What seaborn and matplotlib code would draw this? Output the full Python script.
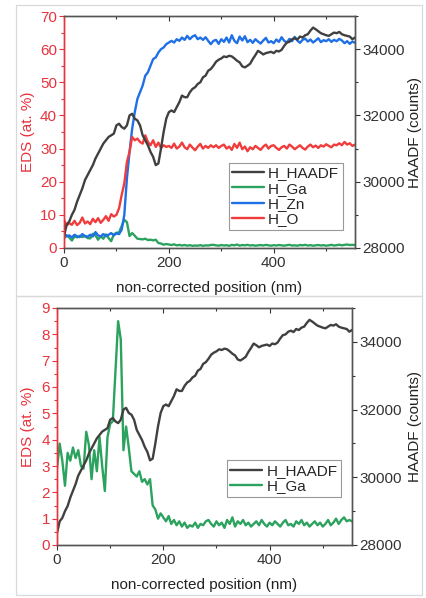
import numpy as np
import pandas as pd
import matplotlib
matplotlib.use("Agg")
import matplotlib.pyplot as plt
from matplotlib.patches import Rectangle
from matplotlib.ticker import MultipleLocator
import seaborn as sns

sns.set_theme(style="white")
plt.rcParams['font.family'] = ['Liberation Sans', 'DejaVu Sans']

# ---------------- data ----------------
position_nm = list(range(0, 560, 5))

haadf_counts = [
    28350, 28700, 28800, 29000, 29150, 29400, 29600, 29800, 30050, 30200,
    30350, 30500, 30700, 30850, 31000, 31150, 31250, 31350, 31400, 31450,
    31700, 31750, 31650, 31600, 31700, 32000, 32050, 31900, 31850, 31700,
    31400, 31250, 31100, 30900, 30750, 30500, 30550, 31000, 31500, 31900,
    32100, 32150, 32100, 32250, 32400, 32600, 32550, 32550, 32700, 32800,
    32850, 32950, 33000, 33150, 33200, 33350, 33400, 33500, 33620, 33680,
    33720, 33780, 33760, 33800, 33780, 33720, 33650, 33600, 33480, 33450,
    33500, 33560, 33700, 33820, 33950, 33900, 33840, 33880, 33900, 33920,
    33880, 33950, 33930, 33980, 34100, 34200, 34220, 34300, 34330, 34290,
    34380, 34350, 34420, 34450, 34560, 34650, 34600, 34540, 34480, 34450,
    34420, 34400, 34450, 34500, 34480, 34520, 34450, 34420, 34400, 34380,
    34300, 34350,
]

zn_at = [
    4.5, 3.5, 3.8, 3.2, 4.0, 3.5, 3.3, 4.2, 3.6, 3.4,
    4.0, 3.5, 4.8, 3.8, 3.5, 4.2, 3.6, 4.0, 4.5, 3.8,
    4.4, 4.2, 5.5, 10.0, 21.0, 29.0, 36.0, 41.0, 45.0, 47.0,
    49.0, 52.0, 53.0, 55.0, 57.0, 57.5, 59.0, 60.0, 60.5, 61.5,
    62.0, 62.5, 62.0, 63.0, 62.5, 63.5, 62.8, 64.0, 63.0, 63.8,
    64.2, 63.0, 63.5, 62.8, 63.6, 62.5, 61.5, 62.5, 62.8, 61.6,
    63.0, 62.2, 63.5, 62.0, 64.2, 62.5, 61.8, 63.8, 62.6, 63.9,
    62.1, 62.8, 61.9, 63.0, 62.3, 61.7, 62.6, 63.4, 62.0, 62.4,
    61.8, 62.9, 62.2, 63.6, 62.5, 62.0, 63.1, 62.4, 63.7, 62.6,
    61.9, 62.8, 63.2, 62.3, 62.9, 62.0, 62.6, 63.3, 62.1, 62.7,
    62.4, 63.0, 62.2, 62.8, 62.4, 63.1, 62.6, 61.8, 62.4, 61.6,
    62.3, 61.9,
]

o_at = [
    8.5, 6.8, 7.5, 7.0, 8.2, 6.9, 7.6, 9.2, 7.4, 8.0,
    7.2, 8.8, 7.8, 9.0, 7.6, 8.5, 9.6, 8.2, 10.2, 9.5,
    10.0, 12.0, 16.0, 19.5, 26.0, 29.0, 33.5, 32.5, 33.0, 32.0,
    31.5, 34.0, 32.0, 31.0, 32.5, 30.5, 31.8, 30.2, 31.0, 30.5,
    30.8, 30.2, 31.5, 30.0, 30.6, 31.8, 30.4, 29.8, 31.2, 30.3,
    29.5, 30.6, 31.4, 30.0, 30.8, 30.2, 31.0, 30.4, 31.0, 30.2,
    30.8, 31.2, 30.0, 30.6, 29.6, 31.4, 30.2, 31.8, 29.8, 30.6,
    29.2, 30.4, 29.8, 30.8, 30.2, 29.6, 30.6, 31.2, 30.0, 30.8,
    31.0, 30.2, 29.6, 30.4, 30.8, 30.0, 31.2, 30.6, 29.8, 30.4,
    31.0, 30.2, 29.7, 30.6, 31.2, 30.4, 30.9, 30.2, 31.0, 30.6,
    31.3, 30.8, 30.4, 31.2, 31.0, 31.6, 31.0, 32.0, 31.2, 31.6,
    30.8, 31.2,
]

ga_at = [
    2.9, 3.85, 3.2, 2.25, 3.5, 3.2, 3.7, 3.3, 3.6, 3.0,
    2.9, 4.3, 3.8, 2.5, 3.6, 2.8, 4.1, 3.0, 2.05, 4.1,
    4.6, 4.7, 6.6, 8.5, 7.8, 3.6, 4.5, 3.7, 2.8, 2.7,
    2.6, 2.8, 2.4, 2.5, 2.3, 2.5, 1.5, 1.35, 1.0, 1.2,
    1.05, 0.9, 1.1, 0.8, 0.95, 0.75, 0.9, 0.7, 0.85, 0.65,
    0.75, 0.7, 0.85, 0.65, 0.8, 0.75, 0.9, 0.95, 0.8, 0.7,
    0.9, 0.75, 0.85, 0.65, 0.95, 0.8, 1.05, 0.7, 0.9, 0.8,
    0.95, 0.75, 0.85, 0.7, 0.8, 0.9, 0.75, 0.95, 0.8, 0.7,
    0.85, 0.75, 0.9, 0.8, 0.7, 0.85, 0.95, 0.75, 0.8, 0.7,
    0.9, 0.8, 0.95, 0.75, 0.85, 0.7, 0.8, 0.9, 0.75, 0.85,
    0.7, 0.8, 0.95, 0.75, 0.85, 1.0, 0.8, 0.95, 1.05, 0.9,
    0.95, 0.9,
]

df = pd.DataFrame({
    "pos": position_nm,
    "H_HAADF": haadf_counts,
    "H_Ga": ga_at,
    "H_Zn": zn_at,
    "H_O": o_at,
})

# ---------------- style ----------------
C_HAADF = "#404040"
C_GA = "#2ca25f"
C_ZN = "#1f6fe6"
C_O = "#f03c3c"
C_AX = "#e8323c"
LW = 1.7
FS = 11

W, H = 426, 598
fig = plt.figure(figsize=(W / 100, H / 100), dpi=100)

# panel frames
for (y0, y1) in [(5, 296), (296, 595)]:
    fig.patches.append(Rectangle((16 / W, 1 - y1 / H), (422 - 16) / W, (y1 - y0) / H,
                                 transform=fig.transFigure, fill=False,
                                 edgecolor="#d9d9d9", linewidth=0.9))


def make_axes(px_left, px_right, px_top, px_bottom):
    return fig.add_axes([px_left / W, 1 - px_bottom / H,
                         (px_right - px_left) / W, (px_bottom - px_top) / H])


def style_axes(ax, ax2, ymax, ymajor, yminor, lab_left_x, lab_right_x, xlab_y):
    ax.set_xlim(0, 555)
    ax.set_ylim(0, ymax)
    ax2.set_ylim(28000, 35000)
    ax.xaxis.set_major_locator(MultipleLocator(200))
    ax.xaxis.set_minor_locator(MultipleLocator(100))
    ax.yaxis.set_major_locator(MultipleLocator(ymajor))
    ax.yaxis.set_minor_locator(MultipleLocator(yminor))
    ax2.yaxis.set_major_locator(MultipleLocator(2000))
    ax2.yaxis.set_minor_locator(MultipleLocator(1000))
    for a in (ax, ax2):
        for s in a.spines.values():
            s.set_linewidth(1.0)
            s.set_color("#555555")
        a.spines["left"].set_color(C_AX)
    ax.tick_params(axis="x", which="both", direction="out", top=True, bottom=True,
                   labeltop=False, labelsize=FS, colors="#333333", pad=2)
    ax.tick_params(axis="x", which="major", length=3.5, width=0.8)
    ax.tick_params(axis="x", which="minor", length=2, width=0.8)
    ax.tick_params(axis="y", which="both", direction="out", left=True, labelsize=FS,
                   colors=C_AX, labelcolor=C_AX, pad=1.5)
    ax.tick_params(axis="y", which="major", length=3.5, width=0.8)
    ax.tick_params(axis="y", which="minor", length=2, width=0.8)
    ax2.tick_params(axis="y", which="both", direction="out", right=True, labelsize=FS,
                    colors="#333333", pad=2)
    ax2.tick_params(axis="y", which="major", length=3.5, width=0.8)
    ax2.tick_params(axis="y", which="minor", length=2, width=0.8)
    for t in ax.xaxis.get_major_ticks() + ax.xaxis.get_minor_ticks():
        t.tick2line.set_marker(matplotlib.lines.TICKDOWN)
    ax.set_xlabel("non-corrected position (nm)", fontsize=FS, color="#222222")
    ax.set_ylabel("EDS (at. %)", fontsize=FS, color=C_AX)
    ax2.set_ylabel("HAADF (counts)", fontsize=FS, color="#222222", rotation=90)
    ax.yaxis.set_label_coords(lab_left_x, 0.5)
    ax2.yaxis.set_label_coords(lab_right_x, 0.5)
    ax.xaxis.set_label_coords(0.5, xlab_y)
    ax.grid(False)
    ax2.grid(False)


def add_legend(ax_main, ax_twin, anchor):
    h = ax_twin.get_lines() + ax_main.get_lines()
    leg = ax_twin.legend(h, [l.get_label() for l in h], loc="lower right",
                         bbox_to_anchor=anchor, borderaxespad=0, fontsize=FS,
                         frameon=True, fancybox=False, edgecolor="#999999",
                         framealpha=1, handlelength=2.1, handletextpad=0.25,
                         labelspacing=0.08, borderpad=0.25)
    leg.get_frame().set_linewidth(0.8)
    return leg


# ---------------- top panel ----------------
ax1 = make_axes(64, 355, 16, 248)
ax1b = ax1.twinx()
sns.lineplot(data=df, x="pos", y="H_Ga", ax=ax1, color=C_GA, lw=LW, label="H_Ga", legend=False)
sns.lineplot(data=df, x="pos", y="H_Zn", ax=ax1, color=C_ZN, lw=LW, label="H_Zn", legend=False)
sns.lineplot(data=df, x="pos", y="H_O", ax=ax1, color=C_O, lw=LW, label="H_O", legend=False)
sns.lineplot(data=df, x="pos", y="H_HAADF", ax=ax1b, color=C_HAADF, lw=LW, label="H_HAADF", legend=False)
style_axes(ax1, ax1b, 70, 10, 5, -0.10, 1.182, -0.142)
add_legend(ax1, ax1b, (0.959, 0.078))

# ---------------- bottom panel ----------------
ax2 = make_axes(57, 352, 308, 545)
ax2b = ax2.twinx()
sns.lineplot(data=df, x="pos", y="H_Ga", ax=ax2, color=C_GA, lw=LW, label="H_Ga", legend=False)
sns.lineplot(data=df, x="pos", y="H_HAADF", ax=ax2b, color=C_HAADF, lw=LW, label="H_HAADF", legend=False)
style_axes(ax2, ax2b, 9, 1, 0.5, -0.075, 1.19, -0.139)
add_legend(ax2, ax2b, (0.963, 0.203))

fig.savefig("out.png", dpi=100)
